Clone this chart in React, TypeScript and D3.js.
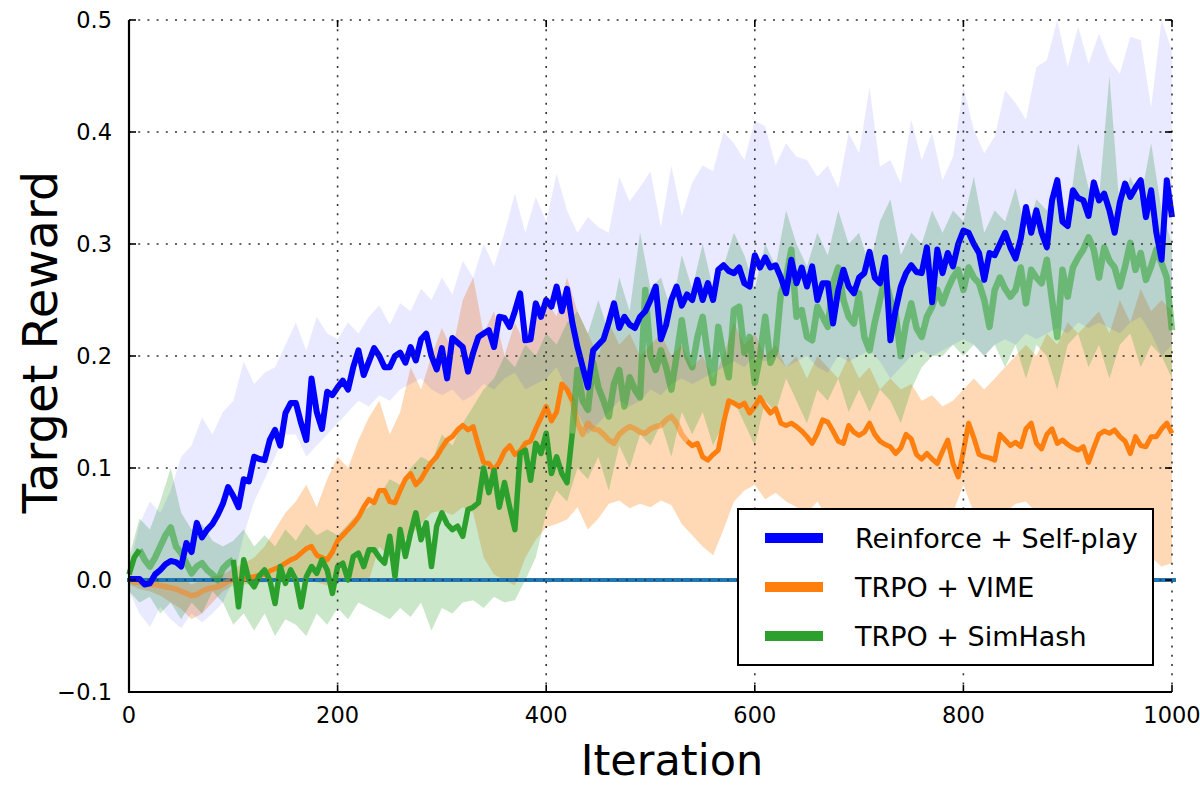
import * as d3 from "d3";

// iterations sampled every 5 for the mean curves, every 10 for the spread bands
const lineStep = 5;
const bandStep = 10;

const xTicks = [0, 200, 400, 600, 800, 1000];
const yTicks = [-0.1, 0, 0.1, 0.2, 0.3, 0.4, 0.5];
const yTickLabels = ["\u22120.1", "0.0", "0.1", "0.2", "0.3", "0.4", "0.5"];
const seriesNames = ["Reinforce + Self-play", "TRPO + VIME", "TRPO + SimHash"];

const blueMean = [
  0.001, 0.001, 0.001, -0.004, -0.003, 0.005, 0.009, 0.014, 0.017, 0.016,
  0.012, 0.033, 0.025, 0.051, 0.038, 0.045, 0.05, 0.058, 0.068, 0.083,
  0.075, 0.065, 0.09, 0.088, 0.11, 0.108, 0.107, 0.125, 0.134, 0.12,
  0.149, 0.158, 0.158, 0.14, 0.125, 0.18, 0.15, 0.135, 0.168, 0.165,
  0.172, 0.178, 0.17, 0.19, 0.205, 0.183, 0.195, 0.207, 0.2, 0.19,
  0.19, 0.2, 0.203, 0.194, 0.208, 0.196, 0.215, 0.22, 0.2, 0.188,
  0.207, 0.18, 0.216, 0.212, 0.208, 0.186, 0.203, 0.217, 0.22, 0.223,
  0.208, 0.235, 0.234, 0.226, 0.24, 0.256, 0.214, 0.215, 0.247, 0.235,
  0.25, 0.244, 0.262, 0.24, 0.26, 0.23, 0.208, 0.19, 0.172, 0.205,
  0.21, 0.215, 0.23, 0.247, 0.225, 0.235, 0.228, 0.225, 0.235, 0.24,
  0.25, 0.262, 0.215, 0.228, 0.25, 0.262, 0.245, 0.255, 0.25, 0.268,
  0.25, 0.265, 0.25, 0.277, 0.281, 0.276, 0.274, 0.279, 0.265, 0.262,
  0.29, 0.279, 0.288, 0.279, 0.281, 0.27, 0.256, 0.286, 0.265, 0.279,
  0.262, 0.28, 0.25, 0.265, 0.265, 0.229, 0.259, 0.277, 0.262, 0.256,
  0.27, 0.274, 0.293, 0.27, 0.265, 0.288, 0.214, 0.241, 0.262, 0.274,
  0.281, 0.275, 0.274, 0.297, 0.248, 0.295, 0.274, 0.292, 0.28, 0.3,
  0.312, 0.31, 0.3, 0.292, 0.268, 0.292, 0.29, 0.3, 0.31, 0.297,
  0.287, 0.305, 0.333, 0.31, 0.33, 0.31, 0.297, 0.339, 0.357, 0.32,
  0.316, 0.348, 0.341, 0.339, 0.325, 0.355, 0.339, 0.345, 0.33, 0.31,
  0.337, 0.354, 0.342, 0.35, 0.357, 0.324, 0.348, 0.31, 0.286, 0.357,
  0.324,
];

const orangeMean = [
  0.0, -0.002, -0.002, -0.003, -0.004, -0.004, -0.005, -0.006, -0.007, -0.008,
  -0.01, -0.012, -0.014, -0.013, -0.01, -0.008, -0.007, -0.006, -0.004, -0.001,
  0.0, 0.0, 0.001, 0.002, 0.003, 0.004, 0.005, 0.008, 0.01, 0.012,
  0.015, 0.018, 0.02, 0.024, 0.028, 0.03, 0.022, 0.02, 0.018, 0.025,
  0.035, 0.04, 0.045, 0.05, 0.056, 0.065, 0.072, 0.069, 0.08, 0.08,
  0.07, 0.069, 0.08, 0.09, 0.095, 0.085, 0.09, 0.098, 0.105, 0.11,
  0.118, 0.125, 0.128, 0.134, 0.138, 0.134, 0.137, 0.12, 0.105, 0.104,
  0.098, 0.105, 0.115, 0.12, 0.112, 0.115, 0.122, 0.124, 0.135, 0.145,
  0.155, 0.142, 0.15, 0.175, 0.17, 0.16, 0.14, 0.13, 0.14, 0.135,
  0.134, 0.13, 0.125, 0.122, 0.13, 0.134, 0.137, 0.135, 0.132, 0.131,
  0.135, 0.137, 0.138, 0.143, 0.146, 0.14, 0.13, 0.124, 0.12, 0.122,
  0.11, 0.107, 0.112, 0.116, 0.14, 0.16, 0.158, 0.155, 0.158, 0.149,
  0.155, 0.163, 0.155, 0.149, 0.153, 0.14, 0.138, 0.14, 0.137, 0.133,
  0.128, 0.122, 0.131, 0.143, 0.141, 0.133, 0.124, 0.122, 0.138, 0.132,
  0.129, 0.132, 0.14, 0.13, 0.124, 0.121, 0.119, 0.113, 0.118, 0.13,
  0.126, 0.112, 0.108, 0.113, 0.108, 0.104, 0.115, 0.125, 0.104, 0.092,
  0.115, 0.14, 0.127, 0.112, 0.11, 0.109, 0.107, 0.13, 0.125, 0.12,
  0.123, 0.119, 0.135, 0.14, 0.122, 0.117, 0.13, 0.135, 0.122, 0.125,
  0.121, 0.118, 0.116, 0.119, 0.105, 0.118, 0.13, 0.133, 0.131, 0.134,
  0.128, 0.124, 0.113, 0.128, 0.12, 0.119, 0.128, 0.128, 0.135, 0.14,
  0.131,
];

const greenMean = [
  0.005, 0.02, 0.027, 0.018, 0.012, 0.02, 0.03, 0.04, 0.047, 0.03,
  0.024, 0.015, 0.006, 0.012, 0.015, 0.009, 0.005, 0.0, 0.01, 0.015,
  0.018, -0.024, 0.018, 0.0, -0.006, 0.004, 0.009, 0.0, -0.021, 0.012,
  -0.003, 0.009, 0.0, -0.024, 0.003, 0.012, 0.006, 0.018, 0.009, -0.012,
  0.012, 0.015, 0.0, 0.021, 0.024, 0.012, 0.027, 0.027, 0.02, 0.015,
  0.039, 0.003, 0.045, 0.021, 0.042, 0.06, 0.036, 0.051, 0.012, 0.048,
  0.06, 0.05, 0.045, 0.048, 0.039, 0.063, 0.065, 0.069, 0.1, 0.078,
  0.098, 0.065, 0.087, 0.065, 0.045, 0.113, 0.116, 0.089, 0.122, 0.113,
  0.131, 0.095, 0.11, 0.095, 0.087, 0.131, 0.1875, 0.16, 0.152, 0.194,
  0.172, 0.16, 0.146, 0.175, 0.1875, 0.155, 0.181, 0.17, 0.163, 0.259,
  0.2, 0.1875, 0.205, 0.19, 0.17, 0.2, 0.232, 0.2, 0.19, 0.217,
  0.235, 0.2, 0.176, 0.226, 0.2, 0.181, 0.241, 0.244, 0.203, 0.217,
  0.176, 0.2, 0.235, 0.194, 0.205, 0.256, 0.27, 0.295, 0.235, 0.241,
  0.217, 0.214, 0.244, 0.235, 0.226, 0.265, 0.279, 0.25, 0.235, 0.229,
  0.256, 0.217, 0.205, 0.23, 0.25, 0.27, 0.25, 0.238, 0.2, 0.229,
  0.247, 0.225, 0.217, 0.235, 0.244, 0.259, 0.247, 0.26, 0.27, 0.277,
  0.259, 0.279, 0.27, 0.265, 0.25, 0.226, 0.259, 0.27, 0.26, 0.253,
  0.259, 0.279, 0.247, 0.277, 0.27, 0.265, 0.286, 0.25, 0.217, 0.277,
  0.253, 0.279, 0.288, 0.295, 0.306, 0.295, 0.27, 0.297, 0.285, 0.279,
  0.262, 0.28, 0.301, 0.277, 0.292, 0.268, 0.28, 0.295, 0.283, 0.27,
  0.223,
];

const blueUpper = [
  0.01, 0.05, 0.07, 0.06, 0.08, 0.11, 0.12, 0.145, 0.13, 0.15,
  0.16, 0.195, 0.175, 0.185, 0.19, 0.21, 0.23, 0.205, 0.235, 0.22,
  0.215, 0.23, 0.22, 0.235, 0.245, 0.228, 0.247, 0.24, 0.26, 0.25,
  0.27, 0.255, 0.285, 0.27, 0.3, 0.28, 0.31, 0.345, 0.31, 0.342,
  0.32, 0.363, 0.33, 0.31, 0.324, 0.315, 0.31, 0.36, 0.338, 0.351,
  0.365, 0.315, 0.37, 0.325, 0.355, 0.37, 0.365, 0.4, 0.39, 0.375,
  0.41, 0.405, 0.37, 0.39, 0.378, 0.375, 0.36, 0.37, 0.35, 0.399,
  0.381, 0.44, 0.369, 0.375, 0.354, 0.411, 0.375, 0.399, 0.357, 0.378,
  0.44, 0.402, 0.381, 0.396, 0.437, 0.426, 0.411, 0.458, 0.464, 0.5,
  0.458, 0.494, 0.461, 0.488, 0.464, 0.452, 0.485, 0.482, 0.422, 0.5,
  0.473,
];

const blueLower = [
  -0.01, -0.03, -0.042, -0.024, -0.035, -0.043, -0.03, -0.038, -0.03, -0.02,
  0.0, 0.04, 0.07, 0.09, 0.11, 0.13, 0.13, 0.11, 0.12, 0.13,
  0.14, 0.15, 0.16, 0.155, 0.165, 0.16, 0.17, 0.175, 0.18, 0.17,
  0.165, 0.17, 0.16, 0.165, 0.175, 0.17, 0.18, 0.185, 0.17, 0.175,
  0.18, 0.19, 0.17, 0.15, 0.13, 0.14, 0.15, 0.16, 0.155, 0.16,
  0.17, 0.165, 0.175, 0.18, 0.175, 0.18, 0.185, 0.19, 0.195, 0.19,
  0.2, 0.195, 0.2, 0.19, 0.195, 0.2, 0.19, 0.185, 0.2, 0.195,
  0.2, 0.205, 0.195, 0.18, 0.19, 0.2, 0.205, 0.2, 0.205, 0.21,
  0.215, 0.21, 0.2, 0.21, 0.215, 0.21, 0.22, 0.215, 0.22, 0.225,
  0.22, 0.23, 0.225, 0.23, 0.225, 0.22, 0.23, 0.235, 0.22, 0.2,
  0.21,
];

const orangeUpper = [
  0.0, 0.002, 0.0, -0.002, 0.0, 0.002, -0.004, 0.0, 0.003, 0.005,
  0.01, 0.015, 0.02, 0.03, 0.045, 0.06, 0.07, 0.085, 0.065, 0.09,
  0.11, 0.1, 0.125, 0.145, 0.16, 0.13, 0.15, 0.19, 0.17, 0.2,
  0.225, 0.205, 0.25, 0.27, 0.22, 0.24, 0.2, 0.23, 0.21, 0.24,
  0.25, 0.235, 0.27, 0.24, 0.22, 0.2, 0.23, 0.21, 0.22, 0.2,
  0.21, 0.22, 0.2, 0.21, 0.19, 0.2, 0.18, 0.2, 0.23, 0.21,
  0.22, 0.2, 0.21, 0.19, 0.2, 0.18, 0.2, 0.19, 0.18, 0.2,
  0.18, 0.19, 0.17, 0.18, 0.17, 0.175, 0.16, 0.165, 0.155, 0.16,
  0.17, 0.18, 0.17, 0.18, 0.19, 0.2, 0.21, 0.2, 0.22, 0.21,
  0.23, 0.22, 0.23, 0.24, 0.22, 0.25, 0.23, 0.26, 0.24, 0.25,
  0.24,
];

const orangeLower = [
  -0.004, -0.008, -0.01, -0.014, -0.02, -0.026, -0.035, -0.03, -0.02, -0.01,
  -0.005, -0.004, -0.003, -0.002, -0.002, -0.001, 0.0, 0.0, -0.002, -0.005,
  0.0, 0.0, -0.002, 0.0, 0.03, 0.02, 0.035, 0.04, 0.05, 0.06,
  0.062, 0.058, 0.065, 0.06, 0.02, 0.005, 0.0, -0.005, 0.02, 0.036,
  0.047, 0.05, 0.054, 0.065, 0.045, 0.055, 0.068, 0.071, 0.064, 0.068,
  0.065, 0.071, 0.067, 0.05, 0.04, 0.03, 0.022, 0.045, 0.07, 0.08,
  0.085, 0.072, 0.078, 0.07, 0.065, 0.06, 0.07, 0.055, 0.06, 0.05,
  0.055, 0.045, 0.05, 0.04, 0.05, 0.045, 0.055, 0.05, 0.045, 0.06,
  0.085, 0.06, 0.05, 0.055, 0.06, 0.068, 0.07, 0.06, 0.05, 0.045,
  0.04, 0.045, 0.035, 0.04, 0.03, 0.035, 0.025, 0.03, 0.02, 0.012,
  0.015,
];

const greenUpper = [
  0.02, 0.055, 0.045, 0.07, 0.1, 0.06, 0.045, 0.05, 0.035, 0.03,
  0.035, 0.045, 0.03, 0.04, 0.03, 0.045, 0.035, 0.05, 0.04, 0.045,
  0.04, 0.05, 0.06, 0.065, 0.075, 0.09, 0.085, 0.1, 0.11, 0.105,
  0.13, 0.12, 0.14, 0.155, 0.17, 0.18, 0.2, 0.19, 0.21, 0.2,
  0.22, 0.21, 0.23, 0.24, 0.22, 0.25, 0.22, 0.27, 0.24, 0.31,
  0.26, 0.27, 0.24, 0.29, 0.26, 0.3, 0.26, 0.28, 0.31, 0.29,
  0.26, 0.3, 0.28, 0.33, 0.3, 0.28, 0.31, 0.29, 0.33, 0.3,
  0.31, 0.28, 0.32, 0.34, 0.29, 0.31, 0.3, 0.33, 0.31, 0.33,
  0.32, 0.36, 0.31, 0.33, 0.32, 0.35, 0.31, 0.34, 0.33, 0.36,
  0.32, 0.39, 0.35, 0.34, 0.45, 0.33, 0.36, 0.34, 0.39, 0.33,
  0.3,
];

const greenLower = [
  -0.01, -0.02, -0.015, -0.03, -0.02, -0.035, -0.02, -0.03, -0.01, -0.02,
  -0.04, -0.03, -0.045, -0.03, -0.05, -0.035, -0.04, -0.05, -0.03, -0.04,
  -0.025, -0.035, -0.02, -0.025, -0.03, -0.035, -0.025, -0.033, -0.02, -0.045,
  -0.025, -0.03, -0.02, -0.018, -0.025, -0.015, -0.02, -0.018, 0.0, 0.02,
  0.06, 0.08, 0.07, 0.1, 0.09, 0.11, 0.08, 0.12, 0.1, 0.13,
  0.12, 0.14, 0.11, 0.15, 0.13, 0.15, 0.12, 0.14, 0.16, 0.14,
  0.12, 0.16, 0.15, 0.18, 0.16, 0.14, 0.17, 0.16, 0.18, 0.15,
  0.17, 0.15, 0.17, 0.16, 0.14, 0.17, 0.19, 0.2, 0.2, 0.21,
  0.2, 0.21, 0.2, 0.21, 0.19, 0.21, 0.18, 0.21, 0.2, 0.17,
  0.21, 0.22, 0.19, 0.21, 0.18, 0.21, 0.22, 0.19, 0.21, 0.2,
  0.18,
];

// iteration ranges where a curve sits under the translucent bands
const orangeFaded = [[0, 100], [425, 535]];
const greenFaded = [[10, 100], [425, 1000]];

const FONT = "'DejaVu Sans', Verdana, sans-serif";

function App() {
  const x = d3.scaleLinear().domain([0, 1000]).range([129, 1172]);
  const y = d3.scaleLinear().domain([-0.1, 0.5]).range([692, 20]);

  const band = (lo: number[], hi: number[]) =>
    d3.area<number>()
      .x((_, i) => x(i * bandStep))
      .y0((_, i) => y(lo[i]))
      .y1(d => y(d))(hi) || "";

  const curve = (vals: number[], keep: (it: number) => boolean) =>
    d3.line<number>()
      .defined((_, i) => keep(i * lineStep))
      .x((_, i) => x(i * lineStep))
      .y(d => y(d))(vals) || "";

  const inside = (ranges: number[][]) => (it: number) =>
    ranges.some(([a, b]) => it >= a && it <= b);
  const outside = (ranges: number[][]) => (it: number) =>
    !ranges.some(([a, b]) => it > a && it < b);

  const legendColors = ["#0000ff", "#ff7f0e", "#2ca02c"];
  const grid = "#333";

  return (
    <svg width={1200} height={785} style={{ position: "absolute", left: 0, top: 0, background: "#fff" }}>
      {/* spread bands */}
      <path d={band(orangeLower, orangeUpper)} fill="#ff7f0e" fillOpacity={0.3} />
      <path d={band(greenLower, greenUpper)} fill="#2ca02c" fillOpacity={0.25} />
      <path d={band(blueLower, blueUpper)} fill="#0000ff" fillOpacity={0.085} />

      {/* flat baseline at zero */}
      <line x1={x(0) - 2} x2={x(1000) + 4} y1={y(0)} y2={y(0)} stroke="#1f77b4" strokeWidth={4} />

      {/* mean curves */}
      <path d={curve(orangeMean, outside(orangeFaded))} fill="none" stroke="#ff7f0e" strokeWidth={5} strokeLinejoin="round" />
      <path d={curve(orangeMean, inside(orangeFaded))} fill="none" stroke="#ff7f0e" strokeOpacity={0.5} strokeWidth={5.5} strokeLinejoin="round" />
      <path d={curve(greenMean, outside(greenFaded))} fill="none" stroke="#2ca02c" strokeWidth={5.5} strokeLinejoin="round" />
      <path d={curve(greenMean, inside(greenFaded))} fill="none" stroke="#2ca02c" strokeOpacity={0.55} strokeWidth={6.5} strokeLinejoin="round" />
      <path d={curve(blueMean, () => true)} fill="none" stroke="#0000ff" strokeWidth={6} strokeLinejoin="round" />

      {/* dotted grid */}
      <g stroke={grid} strokeWidth={1.6} strokeDasharray="2 7.2">
        {xTicks.slice(1).map(t => (
          <line key={"gx" + t} x1={x(t)} x2={x(t)} y1={y(0.5)} y2={y(-0.1)} />
        ))}
        {yTicks.slice(1).map(t => (
          <line key={"gy" + t} x1={x(0)} x2={x(1000)} y1={y(t)} y2={y(t)} />
        ))}
      </g>

      {/* spines and inward ticks */}
      <g stroke="#000" strokeWidth={1.6}>
        {xTicks.map(t => (
          <g key={"tx" + t}>
            <line x1={x(t)} x2={x(t)} y1={y(-0.1)} y2={y(-0.1) - 7} />
            <line x1={x(t)} x2={x(t)} y1={y(0.5)} y2={y(0.5) + 7} />
          </g>
        ))}
        {yTicks.map(t => (
          <g key={"ty" + t}>
            <line x1={x(0)} x2={x(0) + 7} y1={y(t)} y2={y(t)} />
            <line x1={x(1000)} x2={x(1000) - 7} y1={y(t)} y2={y(t)} />
          </g>
        ))}
      </g>
      <line x1={x(0)} x2={x(0)} y1={y(0.5)} y2={y(-0.1) + 1} stroke="#000" strokeWidth={2.2} />
      <line x1={x(0) - 1} x2={x(1000)} y1={y(-0.1)} y2={y(-0.1)} stroke="#000" strokeWidth={2.2} />

      {/* tick labels */}
      <g fontFamily={FONT} fontSize={22.5} fill="#000">
        {xTicks.map(t => (
          <text key={"lx" + t} x={x(t)} y={723} textAnchor="middle">{t}</text>
        ))}
        {yTicks.map((t, i) => (
          <text key={"ly" + t} x={112} y={y(t)} textAnchor="end" dominantBaseline="central">{yTickLabels[i]}</text>
        ))}
      </g>

      {/* axis titles */}
      <text x={672} y={775} textAnchor="middle" fontFamily={FONT} fontSize={43}>Iteration</text>
      <text transform="translate(40,342) rotate(-90)" textAnchor="middle" dominantBaseline="central" fontFamily={FONT} fontSize={48}>
        Target Reward
      </text>

      {/* legend */}
      <g>
        <rect x={738} y={509} width={415} height={156} fill="#fff" stroke="#000" strokeWidth={2} />
        {seriesNames.map((name, i) => (
          <g key={name}>
            <rect x={765} y={533 + i * 49} width={58} height={10} fill={legendColors[i]} />
            <text x={855} y={538 + i * 49} dominantBaseline="central" fontFamily={FONT} fontSize={27}>{name}</text>
          </g>
        ))}
      </g>
    </svg>
  );
}

export default App;
